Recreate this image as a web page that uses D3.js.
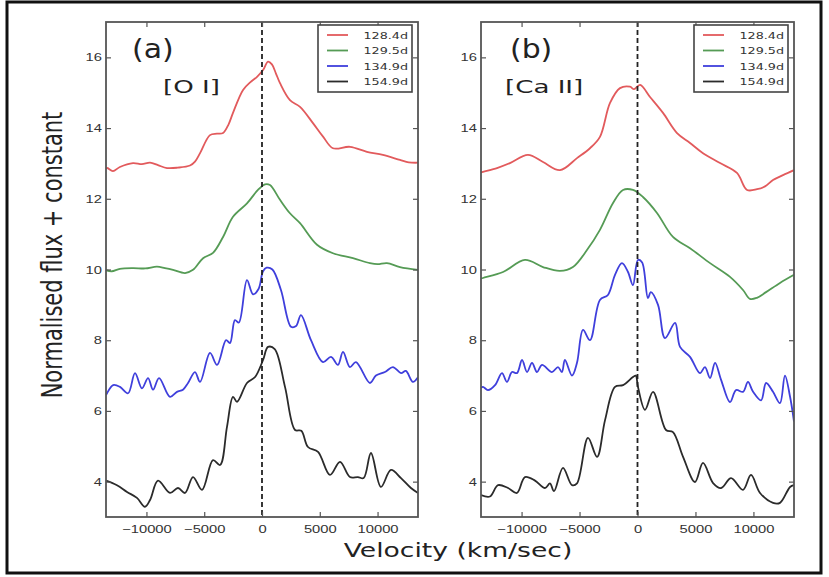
<!DOCTYPE html>
<html>
<head>
<meta charset="utf-8">
<script src="https://cdn.jsdelivr.net/npm/d3@7"></script>
<style>
  body { margin: 0; background: #fff; }
  svg { display: block; font-family: "DejaVu Sans", sans-serif; }
</style>
</head>
<body>
<div id="chart"></div>
<script>
// epochs shown in both legends
const epochs = ["128.4d", "129.5d", "134.9d", "154.9d"];
const colors = ["#e25a5c", "#559b55", "#3f3fdc", "#2b2b2b"];
const xTicks = [-10000, -5000, 0, 5000, 10000];
const yTicks = [4, 6, 8, 10, 12, 14, 16];

// [O I] profiles, [velocity km/s, flux + constant]
const oi128 = [[-13500,12.85],[-13400,12.87],[-12900,12.78],[-12300,12.9],[-11160,13.01],[-10400,12.98],[-9690,13.02],[-9000,12.95],[-8220,12.87],[-7300,12.88],[-6230,12.94],[-5800,13.05],[-5360,13.29],[-4500,13.8],[-3900,13.84],[-3370,13.86],[-2900,14.1],[-2510,14.43],[-1640,15.08],[-1000,15.3],[-430,15.45],[90,15.64],[520,15.88],[860,15.8],[1200,15.55],[1560,15.27],[2420,14.79],[3290,14.6],[4410,14.14],[5300,13.75],[6140,13.43],[7610,13.47],[9080,13.33],[10460,13.24],[11940,13.1],[12700,13.03],[13500,13.02]];
const oi129 = [[-13500,9.98],[-13000,9.95],[-12300,10.02],[-11160,10.04],[-10100,10.03],[-9090,10.08],[-8400,10.04],[-7700,9.99],[-6660,9.9],[-5970,9.99],[-5100,10.32],[-4240,10.47],[-3370,10.92],[-2510,11.49],[-1300,11.87],[-350,12.25],[260,12.41],[690,12.39],[1560,11.97],[2420,11.59],[3290,11.31],[4760,10.7],[6140,10.46],[7870,10.32],[9340,10.18],[10000,10.15],[10810,10.18],[11940,10.07],[13500,9.99]];
const oi134 = [[-13500,6.45],[-13400,6.51],[-12880,6.73],[-12290,6.68],[-11590,6.5],[-10990,7.07],[-10390,6.64],[-9860,6.93],[-9430,6.6],[-8910,6.93],[-7960,6.4],[-7360,6.54],[-6840,6.6],[-6400,6.79],[-5800,7.1],[-5360,6.82],[-4500,7.64],[-3890,7.3],[-3110,8.0],[-2770,7.92],[-2340,8.57],[-2000,8.5],[-1300,9.7],[-780,9.3],[-300,9.45],[90,9.95],[400,10.05],[900,10.0],[1640,9.42],[2510,8.38],[2950,8.4],[3370,8.71],[4240,8.0],[5280,7.38],[5970,7.53],[6570,7.3],[7010,7.67],[7610,7.24],[8130,7.38],[9340,6.79],[9860,7.0],[10640,7.1],[11330,7.24],[12030,7.07],[12450,7.13],[13060,6.82],[13500,6.95]];
const oi154 = [[-13500,4.03],[-12550,3.9],[-11680,3.71],[-10820,3.54],[-10130,3.29],[-9690,3.48],[-9000,4.03],[-7960,3.68],[-7270,3.82],[-6660,3.68],[-5970,4.13],[-5190,3.77],[-4240,4.61],[-3630,4.47],[-3030,5.55],[-2510,6.4],[-2160,6.26],[-1300,6.79],[-600,6.96],[90,7.44],[520,7.81],[1100,7.75],[1990,6.68],[2860,5.46],[3400,5.44],[3980,4.98],[4850,4.84],[5880,4.19],[6750,4.56],[7610,4.13],[8300,4.13],[8800,4.1],[9430,4.81],[10290,3.85],[11160,4.33],[12030,4.1],[12890,3.82],[13500,3.68]];

// [Ca II] profiles
const cai128 = [[-13500,12.74],[-13330,12.76],[-12120,12.87],[-11000,13.01],[-9450,13.24],[-8150,13.04],[-6690,12.81],[-5220,13.15],[-4100,13.43],[-3240,13.75],[-2370,14.71],[-1510,15.13],[-650,15.17],[-300,15.1],[220,15.22],[1080,14.88],[2200,14.43],[3410,13.86],[4530,13.58],[5650,13.29],[7120,13.01],[8580,12.73],[9450,12.25],[10310,12.27],[11000,12.35],[11690,12.53],[12550,12.67],[13500,12.81]];
const cai129 = [[-13500,9.74],[-13330,9.76],[-11600,9.93],[-9710,10.27],[-8150,10.07],[-6690,9.96],[-5570,10.07],[-4360,10.55],[-3240,11.12],[-2110,11.88],[-1250,12.25],[-390,12.25],[470,12.05],[1680,11.6],[3060,10.92],[4530,10.6],[6260,10.18],[7980,9.79],[9100,9.42],[9700,9.17],[10300,9.2],[11090,9.36],[12290,9.62],[13500,9.85]];
const cai134 = [[-13500,6.65],[-13330,6.68],[-12900,6.59],[-12290,6.73],[-11690,7.07],[-11260,6.82],[-10830,7.1],[-10400,7.07],[-9960,7.44],[-9530,7.1],[-9100,7.36],[-8670,7.1],[-8240,7.3],[-7380,7.1],[-6860,7.24],[-6520,7.1],[-6260,7.44],[-5650,7.0],[-5220,7.36],[-4700,8.29],[-4100,8.0],[-3240,9.14],[-2550,9.28],[-1940,9.85],[-1340,10.18],[-820,9.93],[-390,9.56],[40,10.27],[400,10.2],[900,9.19],[1150,9.36],[1770,9.0],[2370,8.06],[3240,8.49],[3670,7.81],[4530,7.53],[5390,7.07],[5820,7.24],[6260,6.93],[6690,7.36],[7210,6.88],[7980,6.25],[8500,6.59],[9100,6.54],[9530,6.82],[9970,6.54],[10660,6.3],[11090,6.79],[11690,6.54],[12290,6.22],[12720,7.0],[13160,6.4],[13500,5.7]];
const cai154 = [[-13500,3.62],[-12730,3.58],[-12030,3.9],[-11170,3.82],[-10400,3.68],[-9710,4.13],[-8840,4.03],[-7980,3.82],[-7550,3.95],[-7200,3.73],[-6430,4.39],[-5650,3.9],[-5220,3.95],[-4270,5.24],[-3490,4.7],[-2800,5.74],[-1940,6.68],[-1250,6.73],[-390,6.96],[-150,7.0],[40,6.68],[650,6.03],[1340,6.54],[2460,5.46],[3060,5.4],[3930,4.7],[4960,3.99],[5650,4.53],[6520,3.96],[7210,3.82],[8070,4.1],[9100,3.77],[9790,4.19],[10570,3.68],[11690,3.4],[12290,3.4],[13160,3.85],[13500,3.9]];

// the source figure is stretched sideways, so text gets stretched too
const SX = 1.34;
const W = 829, H = 577;
const plotTop = 22, plotBottom = 517;

const panels = [
  { left: 106, right: 418, tag: "(a)", ion: "[O I]", series: [oi128, oi129, oi134, oi154] },
  { left: 481, right: 794, tag: "(b)", ion: "[Ca II]", series: [cai128, cai129, cai134, cai154] },
];

const svg = d3.select("#chart").append("svg").attr("width", W).attr("height", H);

svg.append("rect").attr("x", 7).attr("y", 2).attr("width", 814).attr("height", 571)
  .attr("fill", "none").attr("stroke", "#111").attr("stroke-width", 3);

const stretch = (sel, sx) => sel.attr("transform", `scale(${sx},1)`);

const drawLegend = (g, right) => {
  const lx = right - 100, ly = 25;
  const lg = g.append("g").attr("transform", `translate(${lx},${ly})`);
  lg.append("rect").attr("width", 94).attr("height", 67)
    .attr("fill", "#fff").attr("stroke", "#444").attr("stroke-width", 1.6);
  const rows = lg.selectAll("g").data(epochs).enter().append("g")
    .attr("transform", (d, k) => `translate(0,${10 + k * 15.5})`);
  rows.append("line").attr("x1", 9).attr("x2", 30)
    .attr("stroke", (d, k) => colors[k]).attr("stroke-width", 1.8);
  rows.append("text").attr("transform", `translate(90,3.5) scale(${SX},1)`)
    .attr("text-anchor", "end").attr("font-size", 9.5).attr("fill", "#333").text((d) => d);
};

const drawPanel = (p, i) => {
  const xScale = d3.scaleLinear().domain([-13500, 13500]).range([p.left, p.right]);
  const yScale = d3.scaleLinear().domain([3, 17]).range([plotBottom, plotTop]);
  const g = svg.append("g");

  g.append("clipPath").attr("id", "clip" + i).append("rect")
    .attr("x", p.left).attr("y", plotTop).attr("width", p.right - p.left).attr("height", plotBottom - plotTop);

  // curves
  const line = d3.line().x((d) => xScale(d[0])).y((d) => yScale(d[1])).curve(d3.curveCatmullRom.alpha(0.5));
  g.append("g").attr("clip-path", `url(#clip${i})`)
    .selectAll("path").data(p.series).enter().append("path")
    .attr("d", line).attr("fill", "none")
    .attr("stroke", (d, k) => colors[k]).attr("stroke-width", 1.8).attr("stroke-linejoin", "round");

  // zero-velocity marker
  g.append("line")
    .attr("x1", xScale(0)).attr("x2", xScale(0)).attr("y1", plotTop).attr("y2", plotBottom)
    .attr("stroke", "#222").attr("stroke-width", 1.8).attr("stroke-dasharray", "5,3");

  // axes, ticks pointing inward on every side
  const fmt = d3.format("d");
  const bottomAxis = g.append("g").attr("transform", `translate(0,${plotBottom})`)
    .call(d3.axisBottom(xScale).tickValues(xTicks).tickFormat(fmt).tickSizeInner(-5).tickSizeOuter(0).tickPadding(8));
  g.append("g").attr("transform", `translate(0,${plotTop})`)
    .call(d3.axisTop(xScale).tickValues(xTicks).tickFormat("").tickSizeInner(-5).tickSizeOuter(0));
  const leftAxis = g.append("g").attr("transform", `translate(${p.left},0)`)
    .call(d3.axisLeft(yScale).tickValues(yTicks).tickFormat(fmt).tickSizeInner(-5).tickSizeOuter(0));
  g.append("g").attr("transform", `translate(${p.right},0)`)
    .call(d3.axisRight(yScale).tickValues(yTicks).tickFormat("").tickSizeInner(-5).tickSizeOuter(0));

  g.selectAll(".domain").remove();
  g.selectAll(".tick line").attr("stroke", "#555").attr("stroke-width", 1.2);
  bottomAxis.selectAll("text").attr("font-size", 11).attr("fill", "#333").call(stretch, SX);
  leftAxis.selectAll("text").attr("font-size", 11).attr("fill", "#333")
    .attr("x", -4 / SX).call(stretch, SX);

  g.append("rect").attr("x", p.left).attr("y", plotTop)
    .attr("width", p.right - p.left).attr("height", plotBottom - plotTop)
    .attr("fill", "none").attr("stroke", "#555").attr("stroke-width", 1.8);

  // panel labels
  g.append("text").attr("transform", `translate(${p.left + (i ? 29 : 26)},58) scale(1.15,1)`)
    .attr("font-size", 26).attr("fill", "#222").text(p.tag);
  g.append("text").attr("transform", `translate(${p.left + (i ? 24 : 57)},93) scale(1.45,1)`)
    .attr("font-size", 18).attr("fill", "#222").text(p.ion);

  drawLegend(g, p.right);
};

panels.forEach(drawPanel);

// shared axis titles
svg.append("text").attr("transform", `translate(458,557) scale(1.33,1)`)
  .attr("text-anchor", "middle").attr("font-size", 20).attr("fill", "#222")
  .text("Velocity (km/sec)");
svg.append("text").attr("transform", `translate(62,255) scale(${SX},1) rotate(-90)`)
  .attr("text-anchor", "middle").attr("font-size", 21).attr("fill", "#222")
  .text("Normalised flux + constant");
</script>
</body>
</html>
